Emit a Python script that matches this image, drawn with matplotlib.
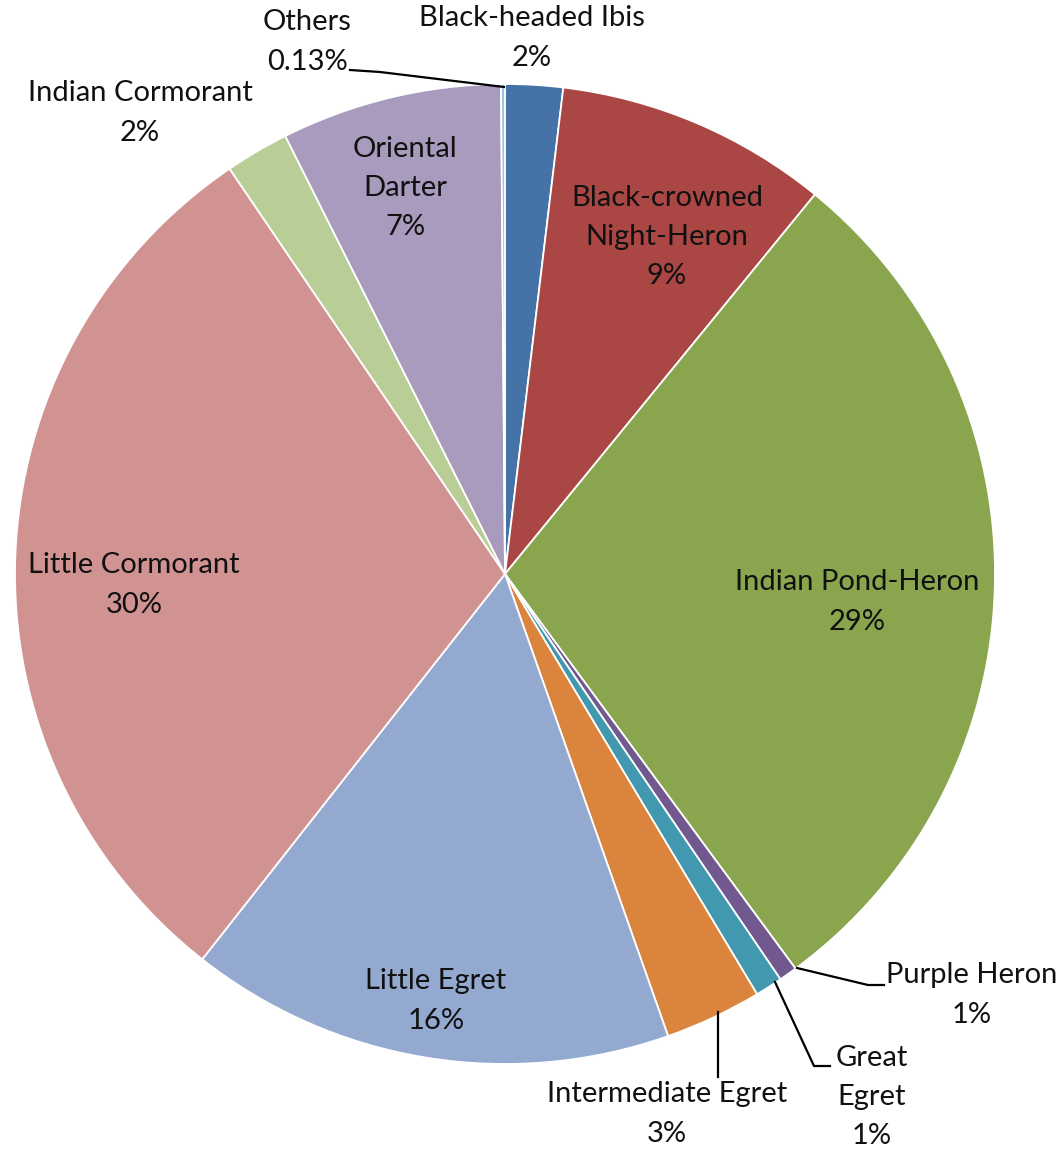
import matplotlib.pyplot as plt

plt.rcParams['font.family'] = ['Lato', 'DejaVu Sans']

species = ["Black-headed Ibis", "Black-crowned\nNight-Heron", "Indian Pond-Heron",
           "Purple Heron", "Great\nEgret", "Intermediate Egret", "Little Egret",
           "Little Cormorant", "Indian Cormorant", "Oriental\nDarter", "Others"]
share = [1.9, 9.0, 29.0, 0.6, 0.9, 3.2, 16.0, 29.9, 2.1, 7.27, 0.13]
colors = ["#4572A7", "#AA4643", "#89A54E", "#71588F", "#4198AF", "#DB843D",
          "#93A9CF", "#D19392", "#B9CD96", "#A99BBD", "#9CC3D6"]

W, H = 1057, 1152


def pct(v):
    return f"{v:.2f}%" if v < 0.5 else f"{v:.0f}%"


# label centres in pixel coords (top-left origin)
label_pos = [(532, 38), (667, 237), (857, 602), (972, 995), (872, 1097),
             (667, 1114), (436, 1001), (134, 585), (140, 113), (405, 188), (307, 42)]

# leader lines (pixel coords) for small outside labels
leaders = {
    3: [(797, 968), (868, 985), (884, 985)],
    4: [(775, 982), (814, 1066), (830, 1066)],
    5: [(718, 1012), (718, 1077)],
    10: [(504, 87), (380, 72), (350, 70)],
}

fig = plt.figure(figsize=(W / 100, H / 100), dpi=100)
ax = fig.add_axes([0, 0, 1, 1])

ax.pie(share, colors=colors, startangle=90, counterclock=False,
       center=(505, H - 574), radius=490, frame=True,
       wedgeprops=dict(edgecolor='white', linewidth=1.3))
ax.set_xlim(0, W)
ax.set_ylim(0, H)
ax.axis('off')

for i, (name, v) in enumerate(zip(species, share)):
    x, y = label_pos[i]
    ax.text(x, H - y, f"{name}\n{pct(v)}", ha='center', va='center',
            fontsize=21, color='#111111', linespacing=1.62)

for pts in leaders.values():
    xs = [p[0] for p in pts]
    ys = [H - p[1] for p in pts]
    ax.plot(xs, ys, color='black', lw=1.6)

fig.savefig("out.png", dpi=100)
